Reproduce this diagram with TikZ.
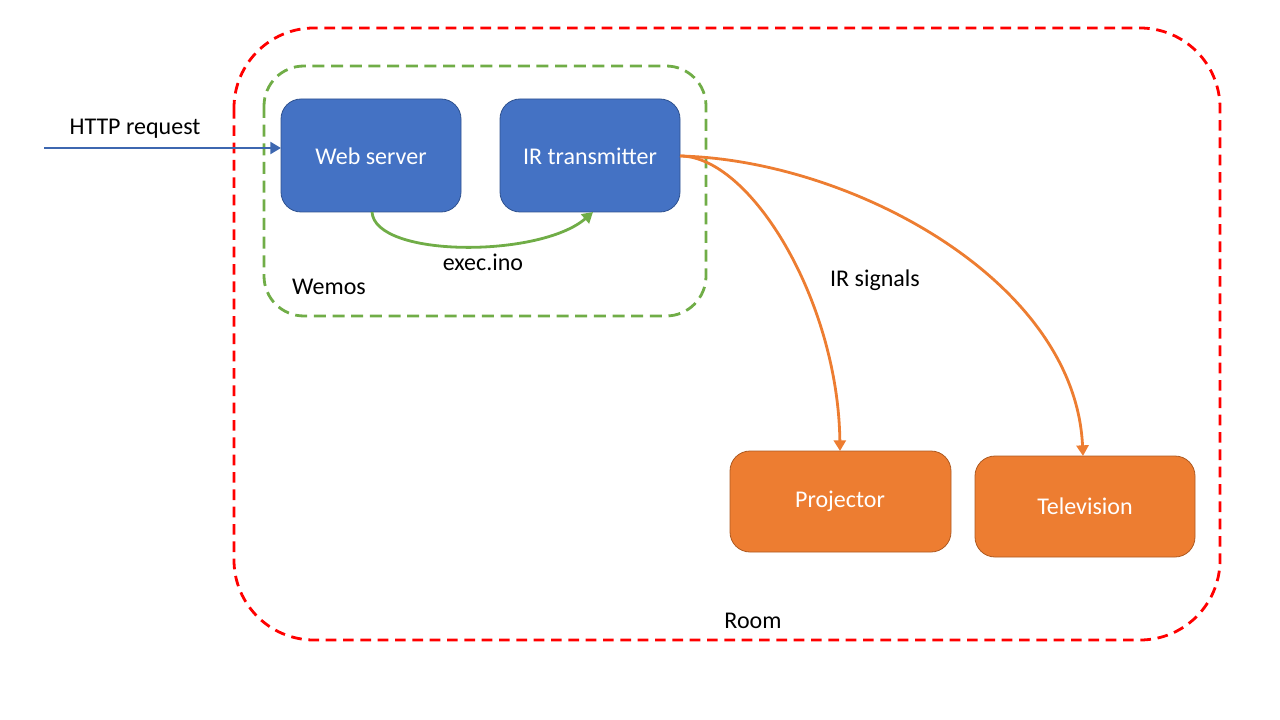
\documentclass[tikz,border=0pt]{standalone}
\usepackage{fontspec}
\setmainfont{Carlito}
\usetikzlibrary{arrows.meta}
\definecolor{bfill}{HTML}{4472C4}
\definecolor{bdraw}{HTML}{2F528F}
\definecolor{ofill}{HTML}{ED7D31}
\definecolor{odraw}{HTML}{AE5A21}
\definecolor{gline}{HTML}{70AD47}
\definecolor{rline}{HTML}{FF0000}
\tikzset{
  bluebox/.style={draw=bdraw, fill=bfill, line width=0.6pt, rounded corners=15pt, text=white, font=\fontsize{18}{21}\selectfont},
  orangebox/.style={draw=odraw, fill=ofill, line width=0.6pt, rounded corners=15pt, text=white, font=\fontsize{18}{21}\selectfont},
  lbl/.style={text=black, font=\fontsize{18}{21}\selectfont},
  tip/.style={-{Triangle[length=8pt,width=9pt]}},
}
\begin{document}
\begin{tikzpicture}[x=0.75pt,y=-0.75pt]
\useasboundingbox (0,0) rectangle (1280,720);
% Room
\draw[rline, line width=2.1pt, dash pattern=on 8pt off 5pt, rounded corners=60pt] (234,28) rectangle (1220,640);
\node[lbl] (room) at (753,621) {Room};
% Wemos
\draw[gline, line width=2.1pt, dash pattern=on 9pt off 5pt, rounded corners=30pt] (264,66) rectangle (706,316);
\node[lbl] (wemos) at (329,287) {Wemos};
% boxes
\draw[bluebox] (281,99) rectangle (461,212);
\node[bluebox, draw=none, fill=none] (ws) at (371,156) {Web server};
\draw[bluebox] (500,99) rectangle (680,212);
\node[bluebox, draw=none, fill=none] (ir) at (590,156) {IR transmitter};
\draw[orangebox] (730,451) rectangle (951,552);
\node[orangebox, draw=none, fill=none] (proj) at (840,501) {Projector};
\draw[orangebox] (975,456) rectangle (1195,557);
\node[orangebox, draw=none, fill=none] (tv) at (1085,506) {Television};
% coordinates
\coordinate (httpstart) at (44,148);
\coordinate (wsleft) at (281,148);
\coordinate (wsbot) at (372,212);
\coordinate (irbot) at (593,212);
\coordinate (irright) at (680,156);
\coordinate (projtop) at (840,451);
\coordinate (tvtop) at (1083,456);
% HTTP request
\draw[bfill!90!black, line width=1.7pt, tip] (httpstart) -- (wsleft);
\node[lbl] (http) at (135,129) {HTTP request};
% exec.ino
\draw[gline, line width=2.1pt, tip] (wsbot) .. controls (375,258) and (540,258) .. (irbot);
\node[lbl] (exec) at (483,262) {exec.ino};
% IR signals
\draw[ofill, line width=2.1pt, tip] (irright) .. controls (750,156) and (838,300) .. (projtop);
\draw[ofill, line width=2.1pt, tip] (irright) .. controls (850,160) and (1075,280) .. (tvtop);
\node[lbl] (irsig) at (875,280) {IR signals};
\end{tikzpicture}
\end{document}
